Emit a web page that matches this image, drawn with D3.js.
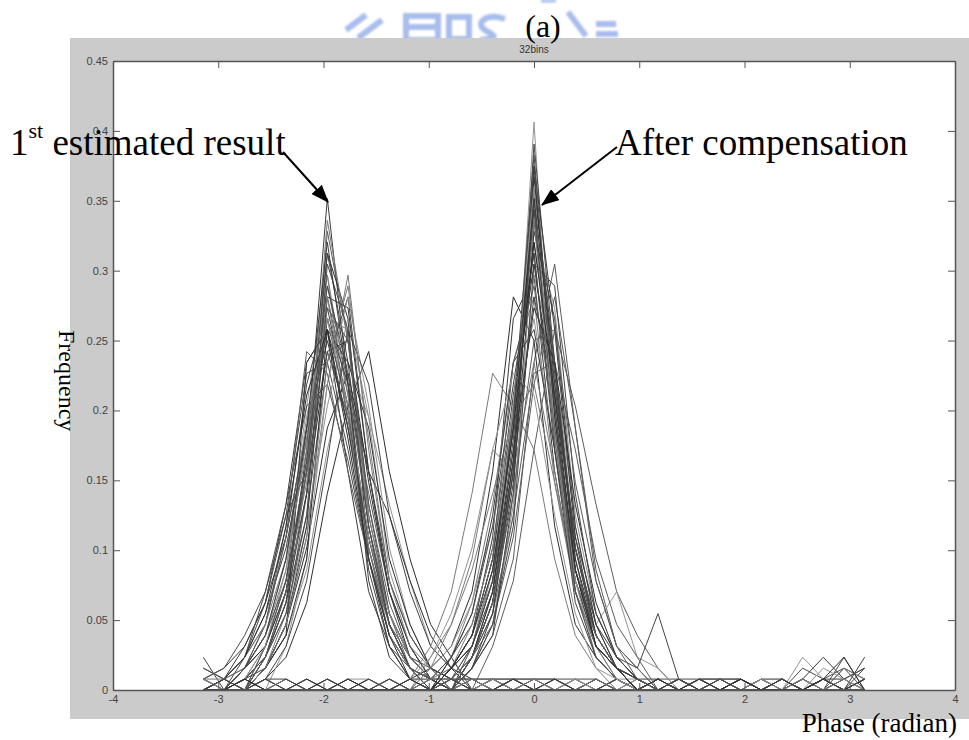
<!DOCTYPE html>
<html>
<head>
<meta charset="utf-8">
<script src="https://cdnjs.cloudflare.com/ajax/libs/d3/7.8.5/d3.min.js"></script>
<style>
  body { margin: 0; background: #fff; }
  #viz svg { display: block; }
</style>
</head>
<body>
<div id="viz"></div>
<script>
// phase bins (radian), -pi .. pi in steps of pi/16
const phaseBins = [-3.1416, -2.9452, -2.7489, -2.5525, -2.3562, -2.1598, -1.9635, -1.7671,
  -1.5708, -1.3744, -1.1781, -0.9817, -0.7854, -0.5890, -0.3927, -0.1963, 0,
  0.1963, 0.3927, 0.5890, 0.7854, 0.9817, 1.1781, 1.3744, 1.5708, 1.7671,
  1.9635, 2.1598, 2.3562, 2.5525, 2.7489, 2.9452, 3.1416];

const sampleCount = 128;

// histogram counts per trial, 1st estimated result (peak near -2)
const estimatedCounts = [
  [0,0,1,3,8,22,45,28,12,5,2, 1,0,1,0,1,0,0,1,0,1,0, 1,0,1,1,0,1,0,1,0,2,1],
  [0,0,0,2,6,18,42,32,16,7,3, 1,1,1,1,1,1,1,0,0,0,0, 0,0,0,0,0,0,0,0,0,0,0],
  [1,0,2,4,10,20,40,34,12,4,1, 0,1,0,1,0,1,0,0,1,0,0, 1,0,0,1,0,1,1,0,1,0,1],
  [0,0,0,2,6,14,28,38,22,10,5, 2,1,0,0,0,0,0,0,0,0,0, 0,0,0,0,0,0,0,0,0,0,0],
  [0,0,1,3,8,16,30,36,20,9,4, 1,0,0,1,0,0,1,0,0,1,0, 0,1,0,0,1,0,0,2,1,0,2],
  [2,1,2,5,12,26,38,24,12,5,2, 1,0,0,0,0,0,0,0,0,0,0, 0,0,0,0,0,0,0,0,0,0,0],
  [0,0,2,6,14,28,35,26,11,4,2, 0,0,0,0,0,0,0,0,0,0,0, 0,0,0,0,0,0,0,0,0,0,0],
  [1,2,4,8,17,30,33,20,9,4,1, 0,1,0,0,1,0,0,0,1,0,1, 0,0,1,0,0,0,1,0,1,1,0],
  [0,0,0,4,9,20,36,27,18,9,4, 1,0,0,0,0,0,0,0,0,0,0, 0,0,0,0,0,0,0,0,0,0,0],
  [0,0,0,1,3,8,18,26,31,20,12, 6,3,0,0,0,0,0,0,0,0,0, 0,0,0,0,0,0,0,0,0,0,0],
  [0,0,1,4,10,19,34,33,16,7,3, 1,0,1,0,0,1,0,1,0,0,1, 0,1,0,1,0,0,1,0,0,1,0],
  [0,1,3,8,16,29,30,22,12,5,2, 1,1,1,1,1,1,1,1,1,0,0, 1,1,1,1,1,0,0,0,0,0,0],
  [0,0,0,3,7,15,26,34,25,11,5, 2,0,0,0,0,0,0,0,0,0,0, 0,0,0,0,0,0,0,0,0,0,0],
  [3,0,1,3,9,21,40,30,15,6,2, 1,0,0,1,0,1,0,0,0,1,0, 1,0,0,0,1,0,1,0,1,0,0],
  [0,1,4,8,14,24,32,24,13,6,2, 0,0,0,0,0,0,0,0,0,0,0, 0,0,0,0,0,0,0,0,0,0,0],
  [0,0,0,4,10,24,37,28,15,7,2, 1,0,0,0,0,0,0,0,0,0,0, 0,0,0,0,0,0,0,0,0,0,0],
  [0,0,2,4,9,18,31,32,19,9,3, 1,0,1,0,1,0,0,0,1,0,0, 1,0,1,0,0,1,0,0,1,0,1],
  [0,0,0,2,7,20,43,32,15,6,2, 1,0,0,0,0,0,0,0,0,0,0, 0,0,0,0,0,0,0,0,0,0,0],
  [1,2,5,9,17,26,28,21,12,5,2, 1,0,0,0,0,0,0,0,0,0,0, 0,0,0,0,0,0,0,0,0,0,0],
  [0,0,0,2,5,11,22,30,25,17,10, 4,2,0,0,0,0,0,0,0,0,0, 0,0,0,0,0,0,0,0,0,0,0],
  [0,0,3,7,13,23,33,26,14,6,2, 1,0,0,0,0,0,0,0,0,0,0, 0,0,0,0,0,0,0,0,0,0,0],
  [0,0,0,2,6,15,36,35,20,9,4, 1,0,0,0,0,0,0,0,0,0,0, 0,0,0,0,0,0,0,0,0,0,0],
  [0,1,3,6,14,24,34,25,13,5,2, 1,0,0,0,0,0,0,0,0,0,0, 0,0,0,0,0,0,0,0,0,0,0],
  [0,0,0,2,6,13,24,29,20,16,10, 5,2,1,0,0,0,0,0,0,0,0, 0,0,0,0,0,0,0,0,0,0,0],
  [0,0,2,5,11,23,38,27,13,6,2, 1,0,0,0,0,0,0,0,0,0,0, 0,0,0,0,0,0,0,0,0,0,0],
  [0,1,3,9,16,20,31,25,14,6,2, 1,0,0,0,0,0,0,0,0,0,0, 0,0,0,0,0,0,0,0,0,0,0],
  [0,0,0,0,4,12,28,36,26,13,6, 2,1,0,0,0,0,0,0,0,0,0, 0,0,0,0,0,0,0,0,0,0,0],
  [0,0,0,3,8,18,34,28,20,10,5, 2,0,0,0,0,0,0,0,0,0,0, 0,0,0,0,0,0,0,0,0,0,0],
  [0,0,1,2,5,30,33,24,14,7,3, 2,1,0,1,0,0,1,0,1,0,0, 1,0,1,0,1,0,0,1,0,0,1],
  [0,1,2,6,15,31,29,20,12,6,3, 1,1,0,0,1,0,0,1,0,0,0, 0,1,0,0,0,1,0,0,1,0,0],
  [0,0,0,2,5,12,33,30,24,12,6, 2,1,0,0,0,0,0,0,0,0,0, 0,0,0,0,0,0,0,0,0,0,0],
  [2,1,3,6,12,22,36,25,12,5,2, 1,0,1,0,0,1,0,1,0,1,0, 0,1,0,1,0,0,0,1,0,1,2],
  [0,0,0,3,7,16,39,33,17,7,3, 1,0,0,0,0,0,0,0,0,0,0, 0,0,0,0,0,0,0,0,0,0,0],
  [0,0,1,4,11,25,34,26,14,7,3, 1,1,0,1,0,0,0,1,0,0,1, 0,0,1,0,1,0,1,0,0,1,0],
  [0,0,0,1,4,10,21,33,28,16,9, 4,2,0,0,0,0,0,0,0,0,0, 0,0,0,0,0,0,0,0,0,0,0],
  [1,0,2,5,12,24,41,28,10,3,1, 0,1,0,0,1,0,1,0,0,1,0, 1,0,0,1,0,0,1,0,0,1,0],
  [0,0,0,3,9,20,35,32,17,8,3, 1,0,0,0,0,0,0,0,0,0,0, 0,0,0,0,0,0,0,0,0,0,0],
  [0,1,3,7,15,27,33,23,12,5,1, 1,0,0,0,0,0,0,0,0,0,0, 0,0,0,0,0,0,0,0,0,0,0],
  [0,0,0,2,6,14,30,37,23,10,4, 2,0,1,0,0,1,0,0,1,0,0, 0,1,0,0,1,0,0,1,0,1,0],
  [0,0,2,5,10,21,37,29,15,6,2, 1,0,0,0,0,0,0,0,0,0,0, 0,0,0,0,0,0,0,0,0,0,0]
];

// histogram counts per trial, after compensation (peak near 0)
const compensatedCounts = [
  [0,1,0,1,0,0,1,0,1,0,0, 1,2,5,10,22,52,22,9,3,1,1, 0,1,0,1,0,1,0,3,1,0,0],
  [0,0,0,0,0,0,0,0,0,0,0, 0,2,4,10,24,48,25,9,4,2,0, 0,0,0,0,0,0,0,0,0,0,0],
  [1,0,1,0,0,1,0,1,0,1,0, 0,1,3,8,20,46,30,12,5,2,1, 1,0,1,0,1,0,0,1,3,1,2],
  [0,0,0,0,0,0,0,0,0,0,0, 0,0,2,5,12,30,39,24,10,4,2, 0,0,0,0,0,0,0,0,0,0,0],
  [0,0,0,0,0,0,0,0,0,0,1, 2,4,9,20,36,32,15,6,3,1,0, 0,0,0,0,0,0,0,0,0,0,0],
  [0,0,0,0,0,0,0,0,0,0,1, 4,9,18,29,26,22,12,5,2,0,0, 0,0,0,0,0,0,0,0,0,0,0],
  [0,1,0,0,1,0,1,0,0,1,0, 0,2,5,12,25,44,24,10,4,2,0, 0,1,0,1,1,0,1,0,0,3,0],
  [0,0,0,0,0,0,0,0,0,0,0, 0,0,2,6,16,42,35,16,7,3,1, 0,0,0,0,0,0,0,0,0,0,0],
  [0,0,0,0,0,0,0,0,0,0,0, 0,3,6,13,27,40,23,10,4,2,0, 0,0,0,0,0,0,0,0,0,0,0],
  [0,0,1,0,1,0,0,1,0,0,1, 0,2,5,14,34,38,20,9,4,2,0, 1,0,0,1,0,0,1,0,1,0,3],
  [0,0,0,0,0,0,0,0,0,0,0, 0,0,3,6,14,28,36,24,11,4,2, 0,0,0,0,0,0,0,0,0,0,0],
  [0,0,0,0,0,0,0,0,0,0,0, 0,0,3,8,21,47,28,13,5,2,1, 0,0,0,0,0,0,0,0,0,0,0],
  [0,0,0,0,0,0,0,0,0,0,0, 1,3,8,17,30,36,19,9,4,1,0, 0,0,0,0,0,0,0,0,0,0,0],
  [2,1,0,1,0,1,0,0,1,0,1, 0,1,3,7,20,50,30,11,4,2,0, 0,1,0,0,1,0,1,0,1,2,0],
  [0,0,0,0,0,0,0,0,0,0,0, 2,4,8,15,25,34,22,11,5,2,0, 0,0,0,0,0,0,0,0,0,0,0],
  [0,0,0,0,0,0,0,0,0,0,0, 0,0,3,9,23,43,27,13,6,3,1, 0,0,0,0,0,0,0,0,0,0,0],
  [0,0,0,0,0,0,0,0,0,0,0, 0,3,7,16,30,33,22,10,5,2,0, 0,0,0,0,0,0,0,0,0,0,0],
  [0,0,0,0,0,0,0,0,0,0,0, 0,0,0,4,10,22,33,26,17,9,5, 2,0,0,0,0,0,0,0,0,0,0],
  [0,0,0,0,0,0,0,0,0,0,0, 0,2,4,11,24,45,25,11,4,2,0, 0,0,0,0,0,0,0,0,0,0,0],
  [0,0,0,0,0,0,0,0,0,0,0, 2,6,12,22,20,30,20,9,4,2,1, 0,0,0,0,0,0,0,0,0,0,0],
  [0,0,0,0,0,0,0,0,0,0,0, 0,0,4,10,24,41,28,13,5,2,1, 0,0,0,0,0,0,0,0,0,0,0],
  [0,0,0,0,0,0,0,0,0,0,0, 0,0,2,6,17,38,30,15,6,9,3, 2,0,0,0,0,0,0,0,0,0,0],
  [0,0,0,0,0,0,0,0,0,0,0, 0,0,3,8,20,36,27,14,7,3,2, 7,1,0,0,0,0,0,0,0,0,0],
  [0,0,0,0,0,0,0,0,0,0,0, 0,0,2,5,18,48,33,14,5,2,1, 0,0,0,0,0,0,0,0,0,0,0],
  [0,0,0,0,0,0,0,0,0,0,0, 0,0,3,7,16,29,30,22,12,6,3, 0,0,0,0,0,0,0,0,0,0,0],
  [0,0,0,0,0,0,0,0,0,0,0, 0,2,5,12,26,39,26,11,5,2,0, 0,0,0,0,0,0,0,0,0,0,0],
  [0,0,0,0,0,0,0,0,0,0,0, 3,6,11,18,25,28,19,10,5,2,1, 0,0,0,0,0,0,0,0,0,0,0],
  [0,0,0,0,0,0,0,0,0,0,0, 0,0,3,8,21,44,30,13,6,2,1, 0,0,0,0,0,0,0,0,0,0,0],
  [1,0,0,1,0,1,0,1,1,0,1, 0,1,4,11,26,46,24,10,3,1,0, 0,1,0,1,0,1,0,0,2,1,0],
  [0,0,0,0,0,0,0,0,0,0,0, 1,3,7,15,28,40,22,8,3,1,0, 0,0,0,0,0,0,0,0,0,0,0],
  [0,1,0,1,0,0,1,0,1,0,0, 0,0,2,7,19,42,34,15,6,2,1, 0,1,0,0,1,0,1,0,1,0,1],
  [0,0,0,0,0,0,0,0,0,0,0, 0,2,5,12,30,37,24,11,5,2,0, 0,0,0,0,0,0,0,0,0,0,0],
  [0,0,0,0,0,0,0,0,0,0,0, 0,0,3,9,22,35,30,17,8,3,1, 0,0,0,0,0,0,0,0,0,0,0],
  [1,1,0,0,1,0,0,1,0,1,0, 1,2,6,13,24,43,23,9,4,1,0, 1,0,1,0,0,1,0,1,0,2,1],
  [0,0,0,0,0,0,0,0,0,0,0, 0,1,4,10,25,49,26,9,3,1,0, 0,0,0,0,0,0,0,0,0,0,0],
  [0,0,0,0,0,0,0,0,0,0,1, 3,7,13,22,29,27,16,7,2,1,0, 0,0,0,0,0,0,0,0,0,0,0],
  [0,1,0,1,1,0,1,0,0,1,0, 0,0,2,6,15,39,37,18,7,3,1, 0,1,0,1,0,0,1,0,1,0,0],
  [0,0,0,0,0,0,0,0,0,0,0, 0,2,4,9,21,45,29,12,4,2,0, 0,0,0,0,0,0,0,0,0,0,0],
  [0,0,0,0,0,0,0,0,0,0,0, 0,0,3,8,18,32,33,19,10,4,1, 0,0,0,0,0,0,0,0,0,0,0],
  [0,0,1,0,0,1,0,1,0,0,1, 0,2,5,11,24,41,27,11,4,2,0, 1,0,1,0,1,0,0,0,1,3,0]
];

const xTicks = [-4, -3, -2, -1, 0, 1, 2, 3, 4];
const xTickLabels = ['-4', '-3', '-2', '-1', '0', '1', '2', '3', '4'];
const yTicks = [0, 0.05, 0.1, 0.15, 0.2, 0.25, 0.3, 0.35, 0.4, 0.45];
const yTickLabels = ['0', '0.05', '0.1', '0.15', '0.2', '0.25', '0.3', '0.35', '0.4', '0.45'];

const lineGrays = ['#3a3a3a', '#5c5c5c', '#2e2e2e', '#7a7a7a', '#4a4a4a', '#939393', '#444444'];

const W = 969, H = 740;
const svg = d3.select('#viz').append('svg').attr('width', W).attr('height', H);

const defs = svg.append('defs');
defs.append('filter').attr('id', 'soft')
  .append('feGaussianBlur').attr('stdDeviation', 0.9);

// watermark logo (pale blue), sits behind the figure panel
const wm = svg.append('g')
  .attr('fill', 'none').attr('stroke', '#a9bdec').attr('stroke-width', 6)
  .attr('filter', 'url(#soft)');
wm.append('line').attr('x1', 346).attr('y1', 30).attr('x2', 366).attr('y2', 15);
wm.append('line').attr('x1', 358).attr('y1', 38).attr('x2', 382).attr('y2', 20);
wm.append('rect').attr('x', 406).attr('y', 16).attr('width', 32).attr('height', 24);
wm.append('line').attr('x1', 406).attr('y1', 27).attr('x2', 438).attr('y2', 27);
wm.append('rect').attr('x', 449).attr('y', 17).attr('width', 20).attr('height', 22);
wm.append('path').attr('d', 'M505,19 C485,12 475,24 485,30 C495,36 500,38 480,40');
wm.append('line').attr('x1', 568).attr('y1', 12).attr('x2', 586).attr('y2', 36);
wm.append('line').attr('x1', 596).attr('y1', 24).attr('x2', 616).attr('y2', 24);
wm.append('line').attr('x1', 596).attr('y1', 34).attr('x2', 618).attr('y2', 34);
wm.append('line').attr('x1', 541).attr('y1', 1).attr('x2', 556).attr('y2', 1).attr('stroke-width', 3);

// grey figure panel
svg.append('rect').attr('x', 70).attr('y', 38).attr('width', W - 70).attr('height', 681)
  .attr('fill', '#cbcbcb');

const plot = { left: 113, right: 955, top: 61, bottom: 690 };
const x = d3.scaleLinear().domain([-4, 4]).range([plot.left, plot.right]);
const y = d3.scaleLinear().domain([0, 0.45]).range([plot.bottom, plot.top]);

svg.append('rect')
  .attr('x', plot.left).attr('y', plot.top)
  .attr('width', plot.right - plot.left).attr('height', plot.bottom - plot.top)
  .attr('fill', '#ffffff');

// histogram lines
const line = d3.line()
  .x((d, i) => x(phaseBins[i]))
  .y(d => y(d / sampleCount));

const curves = estimatedCounts.concat(compensatedCounts);
svg.append('g')
  .selectAll('path')
  .data(curves)
  .join('path')
  .attr('d', line)
  .attr('fill', 'none')
  .attr('stroke', (d, i) => lineGrays[i % lineGrays.length])
  .attr('stroke-width', 1);

// axes, matlab style: ticks inside on all four sides
const tickFont = '"Liberation Sans", Arial, sans-serif';
const styleAxis = g => {
  g.select('.domain').attr('stroke', '#555').attr('stroke-width', 1.5);
  g.selectAll('.tick line').attr('stroke', '#555');
  g.selectAll('.tick text').attr('fill', '#444').attr('font-size', 11).attr('font-family', tickFont);
};

svg.append('g').attr('transform', `translate(0,${plot.bottom})`)
  .call(d3.axisBottom(x).tickValues(xTicks).tickFormat((d, i) => xTickLabels[i])
    .tickSizeInner(-7).tickSizeOuter(0).tickPadding(5))
  .call(styleAxis);
svg.append('g').attr('transform', `translate(0,${plot.top})`)
  .call(d3.axisTop(x).tickValues(xTicks).tickFormat('').tickSizeInner(-7).tickSizeOuter(0))
  .call(styleAxis);
svg.append('g').attr('transform', `translate(${plot.left},0)`)
  .call(d3.axisLeft(y).tickValues(yTicks).tickFormat((d, i) => yTickLabels[i])
    .tickSizeInner(-7).tickSizeOuter(0).tickPadding(5))
  .call(styleAxis);
svg.append('g').attr('transform', `translate(${plot.right},0)`)
  .call(d3.axisRight(y).tickValues(yTicks).tickFormat('').tickSizeInner(-7).tickSizeOuter(0))
  .call(styleAxis);

// small axes title
svg.append('text')
  .attr('x', x(0)).attr('y', 53)
  .attr('text-anchor', 'middle')
  .attr('font-family', tickFont).attr('font-size', 10).attr('fill', '#333')
  .text('32bins');

// big serif labels
const serif = '"Liberation Serif", "Times New Roman", serif';

svg.append('text')
  .attr('x', 543).attr('y', 37)
  .attr('text-anchor', 'middle')
  .attr('font-family', serif).attr('font-size', 32).attr('fill', '#000')
  .text('(a)');

const t1 = svg.append('text')
  .attr('x', 10).attr('y', 155)
  .attr('font-family', serif).attr('font-size', 37).attr('fill', '#000');
t1.append('tspan').text('1');
t1.append('tspan').attr('font-size', 22).attr('dy', -17).text('st');
t1.append('tspan').attr('dy', 17).text(' estimated result');

svg.append('text')
  .attr('x', 615).attr('y', 155)
  .attr('font-family', serif).attr('font-size', 37).attr('fill', '#000')
  .text('After compensation');

svg.append('text')
  .attr('transform', 'translate(59,330) rotate(90)')
  .attr('font-family', serif).attr('font-size', 24).attr('fill', '#000')
  .text('Frequency');

svg.append('text')
  .attr('x', 957).attr('y', 732)
  .attr('text-anchor', 'end')
  .attr('font-family', serif).attr('font-size', 27).attr('fill', '#000')
  .text('Phase (radian)');

// arrows
defs.append('marker')
  .attr('id', 'head')
  .attr('markerUnits', 'userSpaceOnUse')
  .attr('markerWidth', 18).attr('markerHeight', 14)
  .attr('refX', 17).attr('refY', 7)
  .attr('orient', 'auto')
  .append('path').attr('d', 'M0,0 L18,7 L0,14 Z').attr('fill', '#000');

svg.append('line')
  .attr('x1', 283).attr('y1', 152).attr('x2', 328).attr('y2', 202)
  .attr('stroke', '#000').attr('stroke-width', 2).attr('marker-end', 'url(#head)');
svg.append('line')
  .attr('x1', 617).attr('y1', 147).attr('x2', 542).attr('y2', 205)
  .attr('stroke', '#000').attr('stroke-width', 2).attr('marker-end', 'url(#head)');
</script>
</body>
</html>
